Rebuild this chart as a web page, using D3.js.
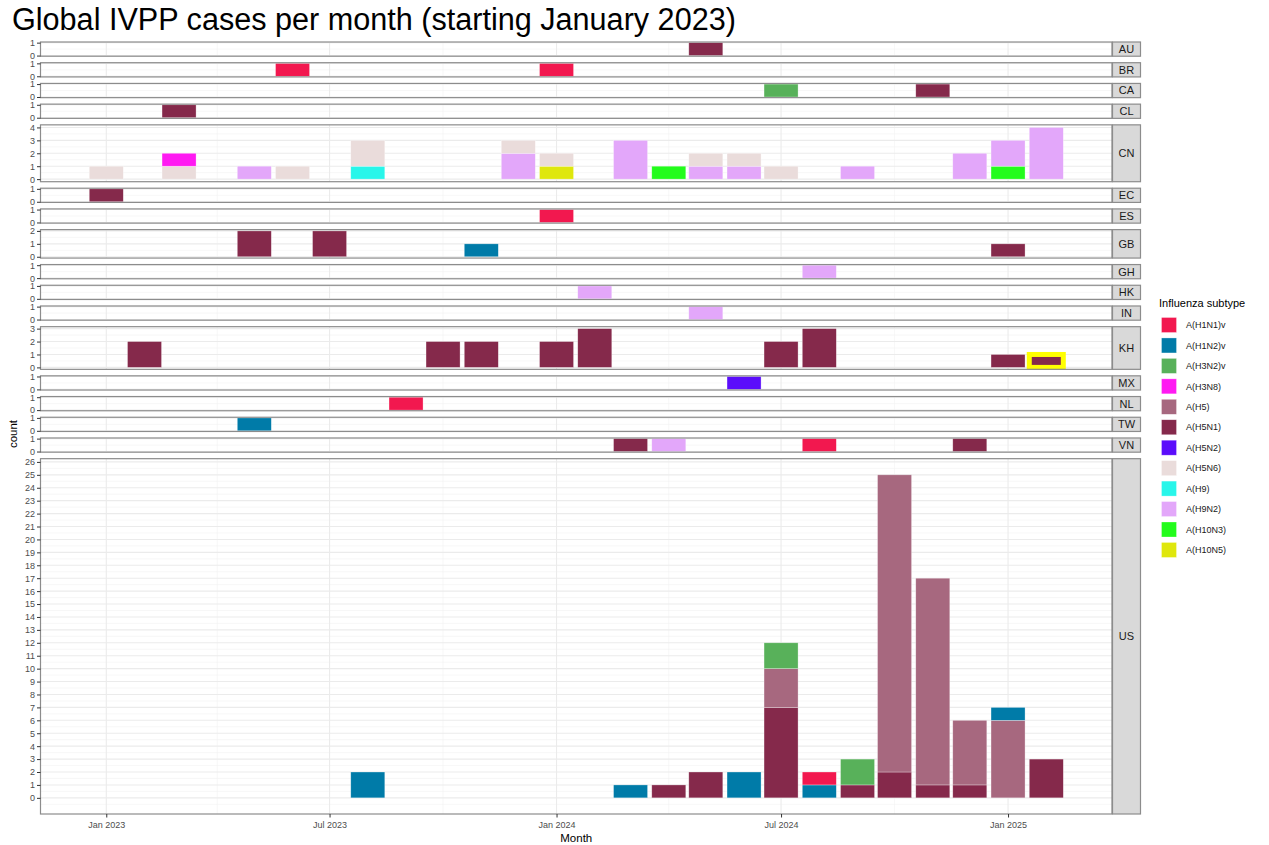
<!DOCTYPE html>
<html>
<head>
<meta charset="utf-8">
<script src="https://cdn.jsdelivr.net/npm/d3@7"></script>
<style>
  body { margin: 0; background: #fff; }
  text { font-family: "Liberation Sans", Arial, sans-serif; }
</style>
</head>
<body>
<svg id="chart" width="1269" height="845"></svg>
<script>
// facet rows (top to bottom)
const countries = ["AU","BR","CA","CL","CN","EC","ES","GB","GH","HK","IN","KH","MX","NL","TW","VN","US"];

const subtypes = ["A(H1N1)v","A(H1N2)v","A(H3N2)v","A(H3N8)","A(H5)","A(H5N1)","A(H5N2)","A(H5N6)","A(H9)","A(H9N2)","A(H10N3)","A(H10N5)"];
const subtypeColors = ["#F2184F","#007BA8","#58B15A","#FF1AF2","#A7687F","#85294B","#5B0DFB","#EADCDB","#28F6EA","#E3A7FA","#23FC1C","#DFE70D"];

// country, month, subtype, count
const cases = [
  ["AU","2024-05","A(H5N1)",1],
  ["BR","2023-06","A(H1N1)v",1], ["BR","2024-01","A(H1N1)v",1],
  ["CA","2024-07","A(H3N2)v",1], ["CA","2024-11","A(H5N1)",1],
  ["CL","2023-03","A(H5N1)",1],
  ["CN","2023-01","A(H5N6)",1], ["CN","2023-03","A(H5N6)",1], ["CN","2023-03","A(H3N8)",1],
  ["CN","2023-05","A(H9N2)",1], ["CN","2023-06","A(H5N6)",1], ["CN","2023-08","A(H9)",1],
  ["CN","2023-08","A(H5N6)",2], ["CN","2023-12","A(H9N2)",2], ["CN","2023-12","A(H5N6)",1],
  ["CN","2024-01","A(H10N5)",1], ["CN","2024-01","A(H5N6)",1], ["CN","2024-03","A(H9N2)",3],
  ["CN","2024-04","A(H10N3)",1], ["CN","2024-05","A(H9N2)",1], ["CN","2024-05","A(H5N6)",1],
  ["CN","2024-06","A(H9N2)",1], ["CN","2024-06","A(H5N6)",1], ["CN","2024-07","A(H5N6)",1],
  ["CN","2024-09","A(H9N2)",1], ["CN","2024-12","A(H9N2)",2], ["CN","2025-01","A(H10N3)",1],
  ["CN","2025-01","A(H9N2)",2], ["CN","2025-02","A(H9N2)",4],
  ["EC","2023-01","A(H5N1)",1],
  ["ES","2024-01","A(H1N1)v",1],
  ["GB","2023-05","A(H5N1)",2], ["GB","2023-07","A(H5N1)",2], ["GB","2023-11","A(H1N2)v",1], ["GB","2025-01","A(H5N1)",1],
  ["GH","2024-08","A(H9N2)",1],
  ["HK","2024-02","A(H9N2)",1],
  ["IN","2024-05","A(H9N2)",1],
  ["KH","2023-02","A(H5N1)",2], ["KH","2023-10","A(H5N1)",2], ["KH","2023-11","A(H5N1)",2],
  ["KH","2024-01","A(H5N1)",2], ["KH","2024-02","A(H5N1)",3], ["KH","2024-07","A(H5N1)",2],
  ["KH","2024-08","A(H5N1)",3], ["KH","2025-01","A(H5N1)",1], ["KH","2025-02","A(H5N1)",1],
  ["MX","2024-06","A(H5N2)",1],
  ["NL","2023-09","A(H1N1)v",1],
  ["TW","2023-05","A(H1N2)v",1],
  ["VN","2024-03","A(H5N1)",1], ["VN","2024-04","A(H9N2)",1], ["VN","2024-08","A(H1N1)v",1], ["VN","2024-12","A(H5N1)",1],
  ["US","2023-08","A(H1N2)v",2], ["US","2024-03","A(H1N2)v",1], ["US","2024-04","A(H5N1)",1],
  ["US","2024-05","A(H5N1)",2], ["US","2024-06","A(H1N2)v",2],
  ["US","2024-07","A(H5N1)",7], ["US","2024-07","A(H5)",3], ["US","2024-07","A(H3N2)v",2],
  ["US","2024-08","A(H1N2)v",1], ["US","2024-08","A(H1N1)v",1],
  ["US","2024-09","A(H5N1)",1], ["US","2024-09","A(H3N2)v",2],
  ["US","2024-10","A(H5N1)",2], ["US","2024-10","A(H5)",23],
  ["US","2024-11","A(H5N1)",1], ["US","2024-11","A(H5)",16],
  ["US","2024-12","A(H5N1)",1], ["US","2024-12","A(H5)",5],
  ["US","2025-01","A(H5)",6], ["US","2025-01","A(H1N2)v",1],
  ["US","2025-02","A(H5N1)",3]
];

// bars outlined in yellow
const highlights = [["KH","2025-02"]];

const xTicks = ["2023-01","2023-07","2024-01","2024-07","2025-01"];

var svg = d3.select("#chart");
var parseMonth = d3.timeParse("%Y-%m");

var panelLeft = 40.5, panelRight = 1112, panelTop = 42, panelBottom = 814;
var gap = 6.5, stripW = 28;
var barDays = 27.6;

var color = d3.scaleOrdinal().domain(subtypes).range(subtypeColors);

// x scale: bar extents + 5% expansion
var months = cases.map((d) => parseMonth(d[1]));
var lo = d3.timeHour.offset(d3.min(months), -barDays * 12);
var hi = d3.timeHour.offset(d3.max(months), barDays * 12);
var pad = (hi - lo) * 0.05;
var x = d3.scaleTime()
  .domain([new Date(+lo - pad), new Date(+hi + pad)])
  .range([panelLeft, panelRight]);
var barW = x(d3.timeHour.offset(lo, barDays * 24)) - x(lo);

// stack per country
var stackKeys = subtypes.slice().reverse();
var facets = countries.map(function (c) {
  var rows = d3.rollups(cases.filter((d) => d[0] == c), (v) => {
    var r = { month: parseMonth(v[0][1]), key: v[0][1] };
    subtypes.forEach((s) => (r[s] = 0));
    v.forEach((d) => (r[d[2]] += d[3]));
    return r;
  }, (d) => d[1]).map((d) => d[1]);
  var series = d3.stack().keys(stackKeys)(rows);
  var max = d3.max(rows, (r) => d3.sum(subtypes, (s) => r[s]));
  return { country: c, rows: rows, series: series, max: max };
});

var totalUnits = d3.sum(facets, (f) => f.max * 1.1);
var unit = (panelBottom - panelTop - gap * (facets.length - 1)) / totalUnits;

var xMajor = xTicks.map(parseMonth);
var xMinor = [];
for (var i = 0; i <= xMajor.length; i++) {
  var a = i == 0 ? d3.timeMonth.offset(xMajor[0], -6) : xMajor[i - 1];
  var mid = d3.timeMonth.offset(a, 3);
  if (mid > x.domain()[0] && mid < x.domain()[1]) xMinor.push(mid);
}

var rowTop = panelTop;
facets.forEach(function (f) {
  var h = f.max * 1.1 * unit;
  var y = d3.scaleLinear().domain([-0.05 * f.max, 1.05 * f.max]).range([rowTop + h, rowTop]);
  var g = svg.append("g");

  g.append("rect")
    .attr("x", panelLeft).attr("y", rowTop)
    .attr("width", panelRight - panelLeft).attr("height", h)
    .attr("fill", "#fff");

  // grid
  var yMajor = d3.range(0, Math.floor(y.domain()[1]) + 1);
  var yMinor = d3.range(Math.floor(y.domain()[0]) + 0.5, y.domain()[1], 1)
    .filter((v) => v > y.domain()[0]);
  g.selectAll(".ymin").data(yMinor).enter().append("line")
    .attr("x1", panelLeft).attr("x2", panelRight)
    .attr("y1", (d) => y(d)).attr("y2", (d) => y(d))
    .attr("stroke", "#f2f2f2").attr("stroke-width", 0.6);
  g.selectAll(".xmin").data(xMinor).enter().append("line")
    .attr("x1", (d) => x(d)).attr("x2", (d) => x(d))
    .attr("y1", rowTop).attr("y2", rowTop + h)
    .attr("stroke", "#f2f2f2").attr("stroke-width", 0.6);
  g.selectAll(".ymaj").data(yMajor).enter().append("line")
    .attr("x1", panelLeft).attr("x2", panelRight)
    .attr("y1", (d) => y(d)).attr("y2", (d) => y(d))
    .attr("stroke", "#ebebeb").attr("stroke-width", 1.1);
  g.selectAll(".xmaj").data(xMajor).enter().append("line")
    .attr("x1", (d) => x(d)).attr("x2", (d) => x(d))
    .attr("y1", rowTop).attr("y2", rowTop + h)
    .attr("stroke", "#ebebeb").attr("stroke-width", 1.1);

  // bars
  f.series.forEach(function (s) {
    g.selectAll(null).data(s.filter((d) => d[1] > d[0])).enter().append("rect")
      .attr("x", (d) => x(d.data.month) - barW / 2)
      .attr("width", barW)
      .attr("y", (d) => y(d[1]))
      .attr("height", (d) => y(d[0]) - y(d[1]))
      .attr("fill", color(s.key))
      .attr("stroke", "#fff").attr("stroke-opacity", 0.5).attr("stroke-width", 0.6);
  });

  // highlighted bars
  var hl = highlights.filter((d) => d[0] == f.country).map((d) => d[1]);
  g.selectAll(null).data(f.rows.filter((r) => hl.indexOf(r.key) >= 0)).enter().append("rect")
    .attr("x", (d) => x(d.month) - barW / 2)
    .attr("width", barW)
    .attr("y", (d) => y(d3.sum(subtypes, (s) => d[s])))
    .attr("height", (d) => y(0) - y(d3.sum(subtypes, (s) => d[s])))
    .attr("fill", "none")
    .attr("stroke", "#FFFF00").attr("stroke-width", 5);

  // panel border
  g.append("rect")
    .attr("x", panelLeft).attr("y", rowTop)
    .attr("width", panelRight - panelLeft).attr("height", h)
    .attr("fill", "none").attr("stroke", "#8c8c8c").attr("stroke-width", 1.2);

  // y axis
  var ya = g.append("g")
    .attr("transform", "translate(" + panelLeft + ",0)")
    .call(d3.axisLeft(y).tickValues(yMajor).tickFormat(d3.format("d")).tickSize(3.5).tickPadding(2));
  ya.select(".domain").remove();
  ya.selectAll("line").attr("stroke", "#333").attr("stroke-width", 1);
  ya.selectAll("text").attr("fill", "#4d4d4d").style("font-size", "9px")
    .style("font-family", '"Liberation Sans", Arial, sans-serif');

  // strip
  g.append("rect")
    .attr("x", panelRight + 0.5).attr("y", rowTop)
    .attr("width", stripW).attr("height", h)
    .attr("fill", "#d9d9d9").attr("stroke", "#8c8c8c").attr("stroke-width", 1.2);
  g.append("text")
    .attr("x", panelRight + 0.5 + stripW / 2).attr("y", rowTop + h / 2)
    .attr("dy", "0.36em")
    .style("text-anchor", "middle")
    .style("font-size", "11px")
    .attr("fill", "#1a1a1a")
    .text(f.country);

  rowTop += h + gap;
});

// x axis
var xa = svg.append("g")
  .attr("transform", "translate(0," + panelBottom + ")")
  .call(d3.axisBottom(x).tickValues(xMajor).tickFormat(d3.timeFormat("%b %Y")).tickSize(3.5).tickPadding(4));
xa.select(".domain").remove();
xa.selectAll("line").attr("stroke", "#333");
xa.selectAll("text").attr("fill", "#4d4d4d").style("font-size", "9px")
  .style("font-family", '"Liberation Sans", Arial, sans-serif');

svg.append("text")
  .attr("x", (panelLeft + panelRight) / 2).attr("y", 842)
  .style("text-anchor", "middle").style("font-size", "11.5px")
  .text("Month");

svg.append("text")
  .attr("transform", "translate(17,434) rotate(-90)")
  .style("text-anchor", "middle").style("font-size", "11.5px")
  .text("count");

svg.append("text")
  .attr("x", 12).attr("y", 30)
  .style("font-size", "30.6px")
  .attr("fill", "#000")
  .text("Global IVPP cases per month (starting January 2023)");

// legend
var legend = svg.append("g").attr("transform", "translate(1159,0)");
legend.append("text")
  .attr("x", 0).attr("y", 307)
  .style("font-size", "11px")
  .text("Influenza subtype");
var item = legend.selectAll(".key").data(subtypes).enter().append("g")
  .attr("transform", (d, i) => "translate(0," + (325 + i * 20.45) + ")");
item.append("rect")
  .attr("x", 2.5).attr("y", -7.5).attr("width", 15).attr("height", 15)
  .attr("fill", (d) => color(d))
  .attr("stroke", "#fff").attr("stroke-opacity", 0.5).attr("stroke-width", 0.6);
item.append("text")
  .attr("x", 27).attr("dy", "0.35em")
  .style("font-size", "9px")
  .attr("fill", "#1a1a1a")
  .text((d) => d);
</script>
</body>
</html>
